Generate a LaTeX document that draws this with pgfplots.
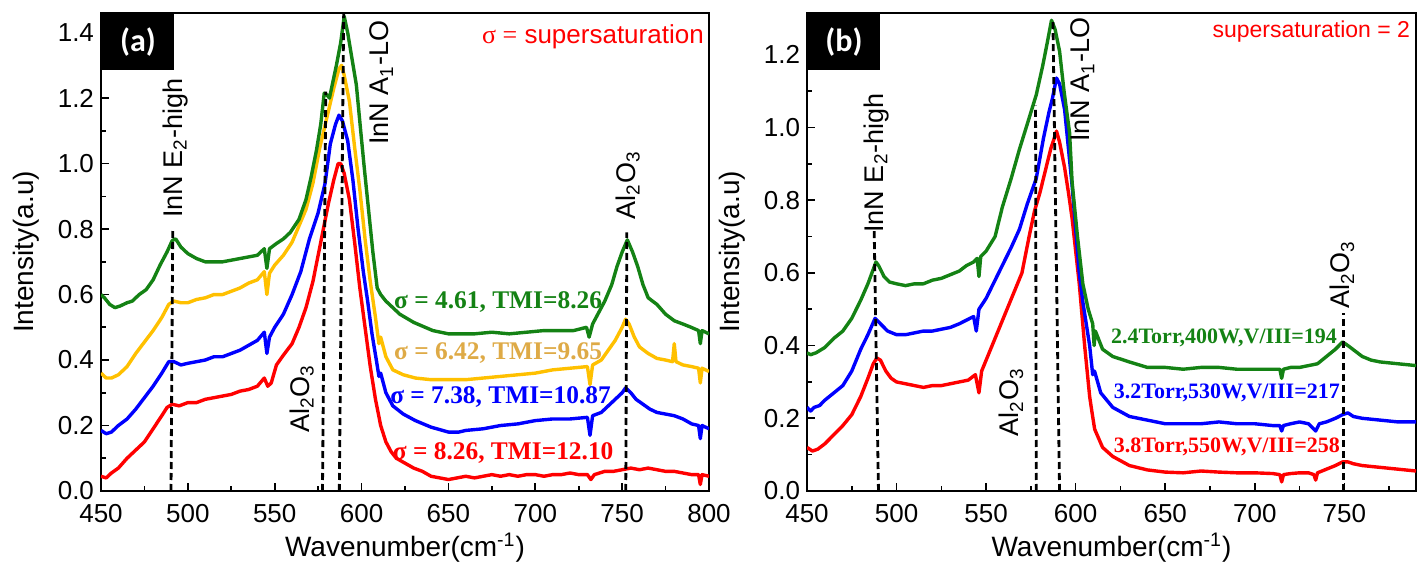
\documentclass[border=0pt]{standalone}
\usepackage{fontspec}
\setmainfont{Liberation Sans}
\newfontfamily\timesf{Liberation Serif}
\newfontfamily\calib{Carlito}
\usepackage{pgfplots}
\pgfplotsset{compat=1.18}

\definecolor{cg}{RGB}{20,130,20}
\definecolor{cy}{RGB}{255,192,0}
\definecolor{cb}{RGB}{0,0,255}
\definecolor{cr}{RGB}{255,0,0}
\definecolor{cyt}{RGB}{222,170,70}

\newcommand\fs[1]{\fontsize{#1}{#1}\selectfont}

\tikzset{
  dl/.style={black, line width=1.4bp, dash pattern=on 3.5bp off 2bp},
  ann/.style={rotate=90, anchor=west, inner sep=0pt, font=\fs{13.5bp}},
  panel/.style={fill=black, text=white, anchor=north west, inner sep=0pt,
    minimum width=36.5bp, minimum height=28.5bp, font=\calib\bfseries\fs{16bp}},
}

\pgfplotsset{
  raman/.style={
    scale only axis, height=239bp,
    xmin=450, ymin=0,
    axis line style={line width=1bp},
    tick align=inside, tick pos=left,
    major tick length=4bp, minor tick length=2.5bp,
    every tick/.append style={black, line width=0.8bp},
    minor x tick num=1, minor y tick num=1,
    xtick={450,500,...,800},
    ticklabel style={font=\fs{13bp}},
    xticklabel style={yshift=-3bp},
    /pgf/number format/assume math mode=true,
    yticklabel style={/pgf/number format/fixed,
      /pgf/number format/fixed zerofill, /pgf/number format/precision=1},
    xlabel={Wavenumber(cm\textsuperscript{-1})},
    ylabel={Intensity(a.u)},
    label style={font=\fs{14bp}},
    xlabel style={at={(axis description cs:0.5,-0.119)}, anchor=center},
    ylabel style={at={(axis description cs:-0.123,0.5)}, anchor=center},
    every axis plot/.append style={line width=1.7bp, line join=round},
  }
}

\begin{document}
\begin{tikzpicture}
\useasboundingbox (-50.5bp,-42bp) rectangle (663bp,245.5bp);

% ---------------- (a)
\begin{axis}[raman, width=304bp, xmax=800, ymax=1.46, ytick={0,0.2,...,1.4}]
\addplot[cr] coordinates {
(450,0.045) (453,0.04) (456,0.055) (460,0.07) (465,0.10) (470,0.125) (475,0.15)
(480,0.19) (485,0.23) (488,0.255) (491,0.265) (495,0.26) (500,0.27) (505,0.27)
(510,0.28) (515,0.285) (520,0.29) (525,0.295) (530,0.305) (535,0.31) (540,0.32)
(544,0.345) (546,0.32) (548,0.33) (551,0.385) (555,0.415) (560,0.45) (564,0.50)
(568,0.56) (572,0.64) (575,0.72) (578,0.80) (581,0.88) (584,0.95) (586.5,1.0)
(588,1.0) (590,0.97) (593,0.89) (596,0.76) (599,0.62) (602,0.50) (605,0.38)
(608,0.28) (611,0.20) (614,0.15) (617,0.12) (620,0.10) (625,0.085) (630,0.07)
(635,0.06) (640,0.045) (645,0.04) (650,0.035) (655,0.04) (660,0.045) (665,0.04)
(670,0.045) (675,0.05) (680,0.045) (685,0.05) (690,0.045) (695,0.05) (700,0.05)
(705,0.045) (710,0.05) (715,0.05) (720,0.055) (725,0.05) (730,0.05) (732,0.035)
(734,0.05) (740,0.06) (745,0.06) (750,0.065) (755,0.07) (760,0.065) (765,0.07)
(770,0.065) (775,0.06) (780,0.06) (785,0.055) (790,0.05) (794,0.05) (795,0.02)
(796,0.05) (800,0.045)};
\addplot[cb] coordinates {
(450,0.185) (453,0.175) (456,0.18) (460,0.2) (465,0.22) (470,0.25) (475,0.285)
(480,0.32) (485,0.36) (489,0.395) (492,0.395) (496,0.385) (500,0.39) (505,0.395)
(510,0.40) (515,0.41) (520,0.41) (525,0.42) (530,0.43) (535,0.445) (540,0.46)
(544,0.485) (545.5,0.42) (547,0.47) (550,0.5) (555,0.54) (560,0.6) (565,0.67)
(570,0.77) (575,0.85) (579,0.94) (582,1.06) (585,1.12) (587,1.148) (589,1.13)
(592,1.07) (595,0.95) (598,0.8) (601,0.67) (603.5,0.58) (606,0.48) (608.5,0.40)
(610,0.35) (611,0.36) (614,0.3) (618,0.26) (624,0.235) (631,0.215) (640,0.195)
(650,0.18) (656,0.18) (660,0.185) (670,0.19) (680,0.2) (690,0.205) (700,0.215)
(710,0.22) (720,0.22) (730,0.225) (731.5,0.17) (733,0.23) (738,0.24) (742,0.26)
(746,0.28) (750,0.3) (752,0.315) (755,0.3) (758,0.28) (762,0.265) (766,0.25)
(770,0.24) (775,0.235) (780,0.23) (785,0.22) (790,0.205) (794,0.2) (795,0.16)
(796,0.2) (800,0.19)};
\addplot[cy] coordinates {
(450,0.36) (453,0.345) (456,0.345) (460,0.355) (465,0.38) (470,0.42) (475,0.455)
(480,0.49) (485,0.53) (489,0.57) (492,0.58) (496,0.575) (500,0.575) (505,0.585)
(510,0.59) (515,0.6) (520,0.6) (525,0.61) (530,0.62) (535,0.635) (540,0.645)
(544,0.67) (545.5,0.60) (547,0.665) (550,0.69) (555,0.72) (560,0.76) (564,0.81)
(568,0.86) (572,0.94) (576,1.05) (580,1.14) (584,1.23) (587,1.29) (588.5,1.30)
(590,1.27) (593,1.19) (596,1.05) (599,0.92) (602,0.77) (605,0.64) (608,0.53)
(610,0.45) (611,0.47) (614,0.41) (618,0.37) (624,0.355) (631,0.345) (640,0.34)
(650,0.34) (660,0.34) (670,0.345) (680,0.35) (690,0.355) (700,0.36) (710,0.37)
(720,0.375) (730,0.38) (731.5,0.325) (733,0.385) (738,0.4) (742,0.43) (746,0.46)
(750,0.5) (752,0.525) (754,0.51) (757,0.47) (760,0.44) (765,0.42) (770,0.405)
(775,0.4) (779,0.395) (780,0.45) (781,0.395) (785,0.385) (790,0.38) (794,0.375)
(795,0.33) (796,0.375) (800,0.365)};
\addplot[cg] coordinates {
(450,0.60) (452,0.59) (455,0.57) (458,0.56) (461,0.565) (465,0.575) (468,0.58)
(472,0.60) (476,0.615) (480,0.645) (484,0.69) (488,0.73) (491,0.765) (493,0.77)
(496,0.745) (500,0.725) (505,0.71) (510,0.70) (515,0.70) (520,0.70) (525,0.705)
(530,0.71) (535,0.715) (540,0.72) (544,0.74) (545.5,0.68) (547,0.74) (551,0.756)
(555,0.77) (559,0.79) (564,0.83) (568,0.89) (571,0.96) (574,1.04) (576.5,1.12)
(578.5,1.215) (580,1.21) (581.5,1.20) (583.5,1.25) (585.5,1.30) (588,1.37)
(590,1.45) (592,1.40) (594.5,1.32) (597,1.24) (599.5,1.10) (601.5,0.99) (604,0.86)
(606.5,0.73) (609,0.62) (611,0.6) (614,0.58) (618,0.56) (622,0.54) (630,0.515)
(641,0.49) (650,0.48) (656,0.48) (665,0.48) (675,0.485) (685,0.48) (695,0.485)
(705,0.49) (715,0.49) (722,0.49) (729.5,0.50) (731,0.47) (733,0.51) (737,0.55)
(740,0.58) (744,0.63) (747,0.685) (750,0.73) (753,0.767) (756,0.73) (759,0.685)
(762,0.63) (765,0.59) (770,0.57) (775,0.54) (780,0.52) (785,0.51) (789.7,0.50)
(794,0.49) (795,0.45) (796,0.49) (800,0.48)};
\addplot[dl] coordinates {(490.3,0) (491.3,0.80)};
\addplot[dl] coordinates {(577.5,0) (579.4,1.22)};
\addplot[dl] coordinates {(587.2,0) (589.7,1.46)};
\addplot[dl] coordinates {(752.1,0) (752.7,0.79)};
\node[ann] at (axis cs:492.8,0.833) {InN E\textsubscript{2}-high};
\node[ann] at (axis cs:611.5,1.057) {InN A\textsubscript{1}-LO};
\node[ann] at (axis cs:565.6,0.177) {Al\textsubscript{2}O\textsubscript{3}};
\node[ann] at (axis cs:753.2,0.828) {Al\textsubscript{2}O\textsubscript{3}};
\node[anchor=east, inner sep=0pt, text=cr, font=\fs{13bp}] at (axis cs:797.2,1.386)
  {{\timesf σ =} supersaturation};
\node[text=cg, font=\timesf\bfseries\fs{12.7bp}] at (axis cs:678.6,0.577) {σ = 4.61, TMI=8.26};
\node[text=cyt, font=\timesf\bfseries\fs{12.7bp}] at (axis cs:678.6,0.422) {σ = 6.42, TMI=9.65};
\node[text=cb, font=\timesf\bfseries\fs{12.7bp}] at (axis cs:680,0.287) {σ = 7.38, TMI=10.87};
\node[text=cr, font=\timesf\bfseries\fs{12.7bp}] at (axis cs:681.5,0.115) {σ = 8.26, TMI=12.10};
\node[panel] at (rel axis cs:0,1) {(a)};
\end{axis}

% ---------------- (b)
\begin{axis}[raman, at={(353bp,0)}, width=304.5bp, xmax=790, ymax=1.315,
  ytick={0,0.2,...,1.2}]
\addplot[cr] coordinates {
(450,0.12) (453,0.11) (456,0.115) (460,0.13) (465,0.155) (470,0.18) (475,0.21)
(480,0.26) (484,0.31) (487,0.35) (489,0.366) (491,0.36) (494,0.33) (497,0.31)
(500,0.30) (505,0.295) (510,0.29) (515,0.285) (520,0.29) (525,0.29) (530,0.295)
(535,0.30) (540,0.305) (544,0.32) (546,0.27) (547.5,0.33) (550,0.36) (555,0.42)
(560,0.48) (565,0.54) (570,0.60) (574,0.70) (577,0.77) (580,0.82) (583,0.88)
(586,0.94) (589.3,0.99) (591,0.96) (593.8,0.89) (596,0.82) (598,0.75) (600,0.66)
(602,0.57) (605,0.40) (607.8,0.26) (609,0.22) (610.6,0.17) (615,0.12) (620.7,0.095)
(630,0.07) (640,0.058) (650,0.052) (660,0.05) (670,0.055) (680,0.052) (690,0.05)
(700,0.05) (710,0.048) (714,0.045) (715,0.025) (716,0.045) (720,0.048) (725,0.05)
(730,0.05) (733,0.045) (734,0.03) (735,0.05) (740,0.06) (745,0.07) (749,0.08)
(752,0.08) (755,0.075) (760,0.07) (770,0.065) (780,0.06) (790,0.055)};
\addplot[cb] coordinates {
(450,0.23) (452,0.22) (454,0.23) (457,0.235) (460,0.25) (465,0.27) (470,0.29)
(475,0.33) (480,0.39) (484,0.43) (488,0.475) (491,0.46) (495,0.44) (500,0.43)
(505,0.43) (510,0.435) (515,0.44) (520,0.44) (525,0.445) (530,0.45) (535,0.46)
(539,0.47) (543,0.48) (544.5,0.44) (546,0.5) (550,0.53) (555,0.58) (560,0.63)
(564,0.67) (568.6,0.72) (573,0.79) (578,0.86) (582,0.97) (585,1.04) (587,1.08)
(589.3,1.136) (591,1.12) (593.8,1.05) (596,0.94) (598,0.84) (600,0.72) (602,0.6)
(604,0.52) (607.8,0.40) (609.5,0.32) (610.5,0.33) (614,0.27) (620.7,0.23)
(630,0.205) (640,0.195) (650,0.185) (660,0.185) (670,0.185) (680,0.19) (690,0.185)
(700,0.185) (710,0.18) (714,0.18) (715,0.165) (716,0.18) (720,0.185) (725,0.19)
(730,0.185) (733,0.17) (734,0.165) (736,0.185) (740,0.19) (745,0.2) (749,0.21)
(752,0.215) (755,0.205) (760,0.2) (770,0.195) (780,0.19) (790,0.19)};
\addplot[cg] coordinates {
(450,0.38) (452,0.375) (455,0.38) (460,0.395) (465,0.42) (470,0.44) (475,0.475)
(480,0.525) (484,0.57) (487,0.61) (488.5,0.63) (490,0.62) (493,0.59) (496,0.575)
(500,0.57) (505,0.565) (510,0.57) (515,0.57) (520,0.58) (525,0.585) (530,0.595)
(535,0.605) (539,0.62) (543,0.63) (545,0.64) (546,0.59) (547,0.645) (550,0.66)
(555,0.70) (559,0.78) (564,0.86) (568.6,0.94) (573,1.01) (578,1.09) (581.6,1.17)
(584,1.23) (586.5,1.295) (588.5,1.27) (591,1.21) (593.5,1.10) (596.6,0.985)
(598,0.85) (601,0.70) (604,0.57) (607,0.50) (609.5,0.46) (610.3,0.40) (611,0.44)
(615,0.39) (620.7,0.37) (630,0.355) (640,0.34) (650,0.34) (660,0.335) (670,0.34)
(680,0.34) (690,0.335) (700,0.335) (710,0.335) (714,0.335) (715,0.31) (716,0.335)
(720,0.34) (725,0.34) (730,0.345) (735,0.35) (740,0.37) (745,0.39) (749,0.41)
(752,0.40) (756,0.385) (760,0.37) (765,0.36) (770,0.355) (780,0.35) (790,0.345)};
\addplot[dl] coordinates {(489.9,0) (487.5,0.718)};
\addplot[dl] coordinates {(578,0) (577.6,1.06)};
\addplot[dl] coordinates {(591,0) (587.3,1.29)};
\addplot[dl] coordinates {(749.4,0) (749.4,0.49)};
\node[ann] at (axis cs:488.6,0.71) {InN E\textsubscript{2}-high};
\node[ann] at (axis cs:603.9,0.96) {InN A\textsubscript{1}-LO};
\node[ann] at (axis cs:564,0.149) {Al\textsubscript{2}O\textsubscript{3}};
\node[ann] at (axis cs:748.8,0.50) {Al\textsubscript{2}O\textsubscript{3}};
\node[anchor=east, inner sep=0pt, text=cr, font=\fs{11.5bp}] at (axis cs:786.9,1.263)
  {supersaturation = 2};
\node[text=cg, font=\timesf\bfseries\fs{11bp}] at (axis cs:682.8,0.42) {2.4Torr,400W,V/III=194};
\node[text=cb, font=\timesf\bfseries\fs{11bp}] at (axis cs:684.4,0.269) {3.2Torr,530W,V/III=217};
\node[text=cr, font=\timesf\bfseries\fs{11bp}] at (axis cs:684.4,0.122) {3.8Torr,550W,V/III=258};
\node[panel] at (rel axis cs:0,1) {(b)};
\end{axis}
\end{tikzpicture}
\end{document}
